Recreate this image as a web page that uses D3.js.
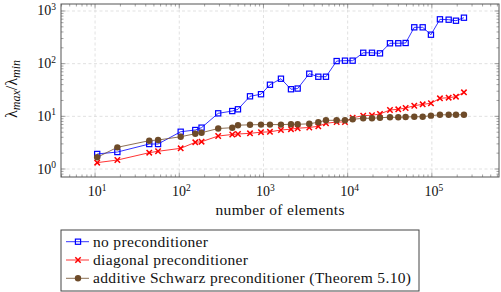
<!DOCTYPE html>
<html>
<head>
<meta charset="utf-8">
<script src="https://cdn.jsdelivr.net/npm/d3@7"></script>
<style>
  html, body { margin: 0; padding: 0; background: #fff; }
  svg { display: block; }
</style>
</head>
<body>
<svg id="chart" width="501" height="292"></svg>
<script>
// number of elements (x) and condition numbers per preconditioner
const elements = [10.6, 18.4, 44, 56, 104, 155, 184, 290, 426, 498, 692, 935, 1194, 1613, 2122, 2548,
  3500, 4480, 5525, 7400, 9290, 11460, 15300, 19440, 24200, 31800, 39900, 48800, 61800, 77800,
  97500, 124700, 158300, 193300, 240400];

const noPrec = [1.93, 2.1, 2.98, 2.98, 5.1, 5.5, 6.1, 11.4, 12.6, 13.6, 24, 26.3, 39.8, 51.8, 32.7, 33.7,
  64.5, 56.5, 56.5, 112, 114, 114, 161, 161, 157, 244, 244, 247, 490, 490,
  355, 695, 684, 654, 746];

const diagPrec = [1.32, 1.48, 2.04, 2.17, 2.47, 3.21, 3.3, 4.23, 4.52, 4.62, 4.76, 5.0, 5.08, 5.5, 5.7, 5.95,
  6.14, 6.47, 7.38, 7.8, 7.8, 9.42, 10.3, 10.5, 11.1, 13.2, 13.6, 14.4, 15.9, 16.9,
  17.7, 22, 22.6, 23.6, 28.6];

const asPrec = [1.67, 2.58, 3.45, 3.55, 4.1, 4.68, 4.89, 5.87, 6.08, 6.79, 6.9, 6.97, 6.97, 6.97, 7.06, 7.06,
  7.21, 7.74, 8.41, 8.41, 8.41, 8.78, 9.18, 9.18, 9.42, 9.59, 9.59, 9.71, 9.84, 9.84,
  10.3, 10.7, 10.7, 10.7, 10.7];

const xTicks = [1, 2, 3, 4, 5];      // exponents of 10
const yTicks = [0, 1, 2, 3];

const series = [
  { name: "no preconditioner", values: noPrec, color: "#0000ff", mark: "square", w: 115 },
  { name: "diagonal preconditioner", values: diagPrec, color: "#ff0000", mark: "cross", w: 155 },
  { name: "additive Schwarz preconditioner (Theorem 5.10)", values: asPrec, color: "#6e4b29", mark: "circle", w: 318 },
];

const FONT = "Liberation Serif";
const svg = d3.select("#chart");
const m = { left: 61, right: 499, top: 4, bottom: 177 };

const x = d3.scaleLog().domain([3.94, 6.27e5]).range([m.left, m.right]);
const y = d3.scaleLog().domain([0.705, 1358]).range([m.bottom, m.top]);

// grid (dashed, at decades)
const grid = svg.append("g").attr("stroke", "#d9d9d9").attr("stroke-width", 0.8).attr("stroke-dasharray", "3,2.5");
xTicks.forEach((e) => {
  grid.append("line").attr("x1", x(10 ** e)).attr("x2", x(10 ** e)).attr("y1", m.top).attr("y2", m.bottom);
});
yTicks.forEach((e) => {
  grid.append("line").attr("x1", m.left).attr("x2", m.right).attr("y1", y(10 ** e)).attr("y2", y(10 ** e));
});

// ticks on all four sides, pointing inward
const minorX = [], minorY = [];
for (let e = 0; e <= 5; e++) for (let k = 2; k <= 9; k++) {
  const v = k * 10 ** e;
  if (v > x.domain()[0] && v < x.domain()[1]) minorX.push(v);
}
for (let e = -1; e <= 3; e++) for (let k = 2; k <= 9; k++) {
  const v = k * 10 ** e;
  if (v > y.domain()[0] && v < y.domain()[1]) minorY.push(v);
}
const tk = svg.append("g").attr("stroke", "#666").attr("stroke-width", 0.6);
function xTick(v, len) {
  tk.append("line").attr("x1", x(v)).attr("x2", x(v)).attr("y1", m.bottom).attr("y2", m.bottom - len);
  tk.append("line").attr("x1", x(v)).attr("x2", x(v)).attr("y1", m.top).attr("y2", m.top + len);
}
function yTick(v, len) {
  tk.append("line").attr("y1", y(v)).attr("y2", y(v)).attr("x1", m.left).attr("x2", m.left + len);
  tk.append("line").attr("y1", y(v)).attr("y2", y(v)).attr("x1", m.right).attr("x2", m.right - len);
}
minorX.forEach((v) => xTick(v, 2.5));
minorY.forEach((v) => yTick(v, 2.5));
xTicks.forEach((e) => xTick(10 ** e, 4.5));
yTicks.forEach((e) => yTick(10 ** e, 4.5));

// series lines and marks
const line = d3.line().x((d) => x(d[0])).y((d) => y(d[1]));
function drawMark(g, cx, cy, s) {
  if (s.mark === "square") {
    g.append("rect").attr("x", cx - 2.6).attr("y", cy - 2.6).attr("width", 5.2).attr("height", 5.2)
      .attr("fill", "none").attr("stroke", s.color).attr("stroke-width", 1.2);
  } else if (s.mark === "cross") {
    g.append("path").attr("d", `M${cx - 2.7},${cy - 2.7}L${cx + 2.7},${cy + 2.7}M${cx - 2.7},${cy + 2.7}L${cx + 2.7},${cy - 2.7}`)
      .attr("stroke", s.color).attr("stroke-width", 1.5).attr("fill", "none");
  } else {
    g.append("circle").attr("cx", cx).attr("cy", cy).attr("r", 3.2).attr("fill", s.color);
  }
}
series.forEach((s) => {
  const pts = elements.map((e, i) => [e, s.values[i]]);
  const g = svg.append("g");
  g.append("path").attr("d", line(pts)).attr("fill", "none").attr("stroke", s.color).attr("stroke-width", 0.8);
  pts.forEach((p) => drawMark(g, x(p[0]), y(p[1]), s));
});

// frame
svg.append("rect").attr("x", m.left).attr("y", m.top).attr("width", m.right - m.left).attr("height", m.bottom - m.top)
  .attr("fill", "none").attr("stroke", "#555").attr("stroke-width", 1);

// tick labels 10^k
function powLabel(sel, e) {
  sel.append("tspan").attr("font-family", FONT).text("10");
  sel.append("tspan").attr("font-family", FONT).attr("dy", -5.5).attr("font-size", 9.5).text(e);
}
xTicks.forEach((e) => {
  const t = svg.append("text").attr("font-family", FONT).attr("x", x(10 ** e) + 2).attr("y", 196)
    .attr("text-anchor", "middle").attr("font-size", 14).attr("fill", "#111");
  powLabel(t, e);
});
yTicks.forEach((e) => {
  const t = svg.append("text").attr("font-family", FONT).attr("x", 56).attr("y", y(10 ** e) + 4.5)
    .attr("text-anchor", "end").attr("font-size", 14).attr("fill", "#111");
  powLabel(t, e);
});

// axis labels
svg.append("text").attr("font-family", FONT).attr("x", (m.left + m.right) / 2).attr("y", 215)
  .attr("text-anchor", "middle").attr("font-size", 15.5).attr("fill", "#111")
  .attr("textLength", 129).attr("lengthAdjust", "spacing").text("number of elements");

const yl = svg.append("text").attr("font-family", FONT).attr("transform", "translate(17,89) rotate(-90)")
  .attr("text-anchor", "middle").attr("font-size", 16).attr("fill", "#111");
yl.append("tspan").attr("font-family", FONT).text("λ");
yl.append("tspan").attr("font-family", FONT).attr("dy", 3).attr("font-size", 12).attr("font-style", "italic").text("max");
yl.append("tspan").attr("font-family", FONT).attr("dy", -3).text("/λ");
yl.append("tspan").attr("font-family", FONT).attr("dy", 3).attr("font-size", 12).attr("font-style", "italic").text("min");

// legend
const leg = svg.append("g");
leg.append("rect").attr("x", 61).attr("y", 230).attr("width", 358).attr("height", 61)
  .attr("fill", "#fff").attr("stroke", "#444").attr("stroke-width", 1);
series.forEach((s, i) => {
  const cy = 241.7 + i * 18.3;
  leg.append("line").attr("x1", 66).attr("x2", 89).attr("y1", cy).attr("y2", cy)
    .attr("stroke", s.color).attr("stroke-width", 0.8);
  drawMark(leg, 78, cy, s);
  leg.append("text").attr("font-family", FONT).attr("x", 93).attr("y", cy + 4.8).attr("font-size", 15.5)
    .attr("fill", "#111").attr("textLength", s.w).attr("lengthAdjust", "spacing").text(s.name);
});
</script>
</body>
</html>
